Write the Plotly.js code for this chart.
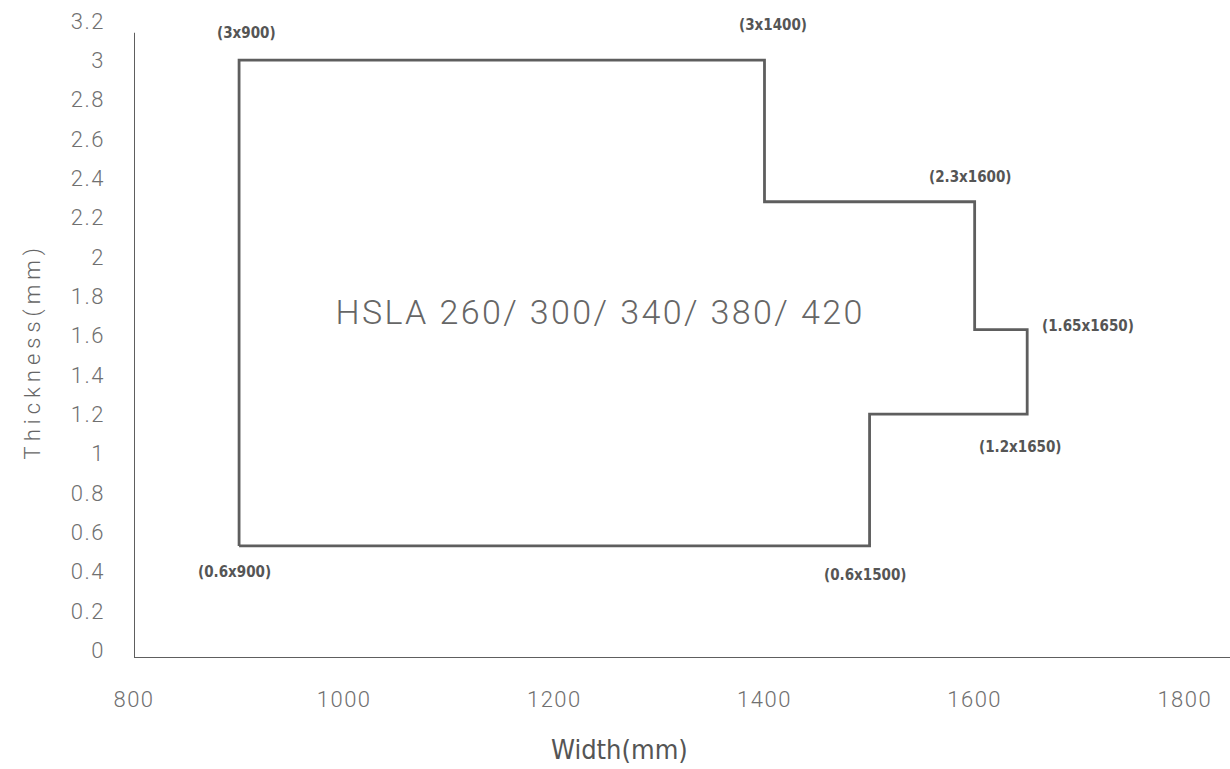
<!DOCTYPE html>
<html>
<head>
<meta charset="utf-8">
<script src="https://cdn.plot.ly/plotly-3.0.1.min.js"></script>
<style>
  html, body { margin: 0; padding: 0; background: #fff; }
  #chart { width: 1230px; height: 769px; }
  .ytick text, .xtick text { letter-spacing: 1.5px; }
</style>
</head>
<body>
<div id="chart"></div>
<script>
// Outline of the HSLA feasibility window (width in mm, thickness in mm)
const outlineWidth = [900, 900, 1400, 1400, 1600, 1600, 1650, 1650, 1500, 1500, 900];
const outlineThickness = [0.53, 3.0, 3.0, 2.28, 2.28, 1.63, 1.63, 1.2, 1.2, 0.53, 0.53];

// Corner labels
const cornerWidth = [900, 1400, 1600, 1650, 1650, 1500, 900];
const cornerThickness = [3.0, 3.0, 2.28, 1.63, 1.2, 0.53, 0.53];
const cornerText = ["(3x900)", "(3x1400)", "(2.3x1600)", "(1.65x1650)", "(1.2x1650)", "(0.6x1500)", "(0.6x900)"];
const cornerShiftX = [7, 9, -4, 61, -7, -4, -5];
const cornerShiftY = [27, 35, 25, 4, -33, -29, -26];

const gradeLabel = "HSLA 260/ 300/ 340/ 380/ 420";
const xTitle = "Width(mm)";
const yTitle = "Thickness(mm)";

const xTickVals = [800, 1000, 1200, 1400, 1600, 1800];
const yTickVals = [0, 0.2, 0.4, 0.6, 0.8, 1, 1.2, 1.4, 1.6, 1.8, 2, 2.2, 2.4, 2.6, 2.8, 3, 3.2];

const lineColor = "#5e5e5e";
const tickColor = "#707070";
const condensed = "DejaVu Sans Condensed, DejaVu Sans, sans-serif";

const trace = {
  type: "scatter",
  mode: "lines",
  x: outlineWidth,
  y: outlineThickness,
  line: { color: lineColor, width: 2.8 },
  hoverinfo: "skip",
  showlegend: false
};

const annotations = cornerText.map((t, i) => ({
  x: cornerWidth[i], y: cornerThickness[i], xref: "x", yref: "y",
  text: t, showarrow: false,
  xshift: cornerShiftX[i], yshift: cornerShiftY[i],
  font: { family: condensed, size: 15, color: "#555555", stretch: "condensed", weight: 700 }
}));
annotations.push({
  x: 1243, y: 1.72, xref: "x", yref: "y",
  text: gradeLabel, showarrow: false, name: "grade",
  font: { family: "Roboto, sans-serif", size: 34, color: "#666666", weight: 300 }
});
annotations.push({
  x: 0.4434, y: -0.142, xref: "paper", yref: "paper",
  xanchor: "center", yanchor: "middle",
  text: xTitle, showarrow: false,
  font: { family: condensed, size: 27, color: "#555555", stretch: "condensed" }
});
annotations.push({
  x: -0.0922, y: 0.4745, xref: "paper", yref: "paper",
  xanchor: "center", yanchor: "middle", textangle: -90,
  text: yTitle, showarrow: false, name: "ytitle",
  font: { family: "Roboto, sans-serif", size: 22, color: "#666666", weight: 300 }
});

const layout = {
  width: 1230, height: 769,
  margin: { l: 134, r: 0, t: 11, b: 111 },
  paper_bgcolor: "#ffffff",
  plot_bgcolor: "#ffffff",
  showlegend: false,
  xaxis: {
    range: [800, 1843],
    tickvals: xTickVals,
    showgrid: false, zeroline: false, showline: false,
    ticks: "", ticklabelstandoff: 26,
    tickfont: { family: "Roboto, sans-serif", size: 22, color: tickColor, weight: 300 }
  },
  yaxis: {
    range: [-0.04, 3.25],
    tickvals: yTickVals,
    showgrid: false, zeroline: false, showline: false,
    ticks: "", ticklabelstandoff: 28,
    tickfont: { family: "Roboto, sans-serif", size: 22, color: tickColor, weight: 300 }
  },
  shapes: [
    { type: "line", xref: "x", yref: "y", x0: 800, x1: 800, y0: -0.04, y1: 3.14,
      line: { color: lineColor, width: 2 } },
    { type: "line", xref: "x", yref: "y", x0: 800, x1: 1843, y0: -0.04, y1: -0.04,
      line: { color: lineColor, width: 2 } }
  ],
  annotations: annotations
};

Plotly.newPlot("chart", [trace], layout, { displayModeBar: false, staticPlot: true }).then(gd => {
  const texts = gd.querySelectorAll(".annotation-text");
  const n = texts.length;
  if (n >= 3) {
    texts[n - 3].style.letterSpacing = "2.4px";
    texts[n - 1].style.letterSpacing = "5px";
  }
});
</script>
</body>
</html>
